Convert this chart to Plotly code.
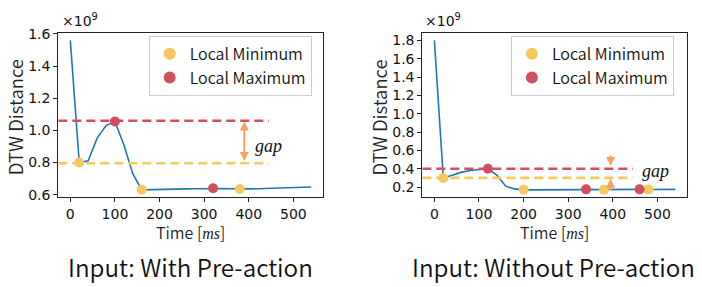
import plotly.graph_objects as go

# ---------------- data ----------------
time_ms = [0, 20, 40, 60, 80, 100, 120, 140, 160, 180, 200, 220, 240, 260, 280,
           300, 320, 340, 360, 380, 400, 420, 440, 460, 480, 500, 520, 540]

dtw_with = [1.56, 0.80, 0.81, 0.95, 1.03, 1.055, 0.91, 0.73, 0.63, 0.632, 0.633,
            0.634, 0.635, 0.636, 0.637, 0.638, 0.640, 0.638, 0.637, 0.635, 0.636,
            0.637, 0.639, 0.642, 0.645, 0.647, 0.648, 0.648]

dtw_without = [1.80, 0.30, 0.33, 0.36, 0.38, 0.39, 0.40, 0.33, 0.21, 0.18, 0.17,
               0.170, 0.171, 0.171, 0.172, 0.173, 0.174, 0.175, 0.173, 0.171, 0.172,
               0.173, 0.174, 0.175, 0.173, 0.173, 0.174, 0.175]

with_min_t = [20, 160, 380]
with_min_v = [0.80, 0.63, 0.635]
with_max_t = [100, 320]
with_max_v = [1.055, 0.640]

without_min_t = [20, 200, 380, 480]
without_min_v = [0.30, 0.17, 0.171, 0.173]
without_max_t = [120, 340, 460]
without_max_v = [0.40, 0.175, 0.175]

with_levels = {"max": 1.06, "min": 0.795}
without_levels = {"max": 0.40, "min": 0.30}
level_x = [-27, 445]

x_ticks = [0, 100, 200, 300, 400, 500]
with_yticks = [0.6, 0.8, 1.0, 1.2, 1.4, 1.6]
without_yticks = [0.2, 0.4, 0.6, 0.8, 1.0, 1.2, 1.4, 1.6, 1.8]

captions = ["Input: With Pre-action", "Input: Without Pre-action"]

# ---------------- styles ----------------
BLUE = "#1f77b4"
YEL = "#f6c85f"
RED = "#d0505f"
ORANGE = "#f5a262"
JP = "Noto Sans CJK JP"
W = 350
TICKF = dict(family="DejaVu Sans", size=14, color="#111")

fig = go.Figure()

def add_panel(xa, ya, y, mint, minv, maxt, maxv, levels, legend):
    fig.add_trace(go.Scatter(x=time_ms, y=y, mode="lines", xaxis=xa, yaxis=ya,
                             line=dict(color=BLUE, width=1.6), showlegend=False))
    fig.add_trace(go.Scatter(x=level_x, y=[levels["max"]] * 2, mode="lines", xaxis=xa, yaxis=ya,
                             line=dict(color=RED, width=2.6, dash="9px,5px"), showlegend=False))
    fig.add_trace(go.Scatter(x=level_x, y=[levels["min"]] * 2, mode="lines", xaxis=xa, yaxis=ya,
                             line=dict(color=YEL, width=2.6, dash="9px,5px"), showlegend=False))
    fig.add_trace(go.Scatter(x=mint, y=minv, mode="markers", xaxis=xa, yaxis=ya,
                             marker=dict(color=YEL, size=10), name="Local Minimum", legend=legend))
    fig.add_trace(go.Scatter(x=maxt, y=maxv, mode="markers", xaxis=xa, yaxis=ya,
                             marker=dict(color=RED, size=10), name="Local Maximum", legend=legend))

add_panel("x", "y", dtw_with, with_min_t, with_min_v, with_max_t, with_max_v, with_levels, "legend")
add_panel("x2", "y2", dtw_without, without_min_t, without_min_v, without_max_t, without_max_v,
          without_levels, "legend2")

axis_common = dict(showline=True, mirror=True, linecolor="#222", linewidth=1,
                   ticks="outside", ticklen=4, tickcolor="#222", showgrid=False,
                   zeroline=False, tickfont=TICKF)

ydom = [0.308, 0.906]
legend_common = dict(xanchor="right", yanchor="top", bgcolor="white",
                     bordercolor="#cccccc", borderwidth=1, itemsizing="constant",
                     font=dict(family=JP, size=16, color="#111", weight=W),
                     tracegroupgap=0)
fig.update_layout(
    width=702, height=287,
    margin=dict(l=0, r=0, t=0, b=0),
    paper_bgcolor="white", plot_bgcolor="white",
    xaxis=dict(domain=[0.0830, 0.4605], range=[-27, 567], tickvals=x_ticks, anchor="y", **axis_common),
    yaxis=dict(domain=ydom, range=[0.5835, 1.6065], tickvals=with_yticks, tickformat=".1f",
               anchor="x", **axis_common),
    xaxis2=dict(domain=[0.6016, 0.9791], range=[-27, 567], tickvals=x_ticks, anchor="y2", **axis_common),
    yaxis2=dict(domain=ydom, range=[0.0885, 1.8815], tickvals=without_yticks, tickformat=".1f",
                anchor="x2", **axis_common),
    legend=dict(x=0.444, y=0.895, **legend_common),
    legend2=dict(x=0.960, y=0.895, **legend_common),
)

ms = "<span style='font-family:Liberation Serif'><i>ms</i></span>"
ann = []
for xc, x0 in [(190.8, 60), (554.8, 423)]:
    ann.append(dict(text="Time [" + ms + "]", x=xc / 702, y=1 - 235 / 287, xref="paper", yref="paper",
                    showarrow=False, font=dict(family=JP, size=16, color="#222", weight=W),
                    xanchor="center", yanchor="middle"))
    ann.append(dict(text="×10<sup>9</sup>", x=x0 / 702, y=1 - 14 / 287, xref="paper", yref="paper",
                    showarrow=False, font=dict(family="DejaVu Sans", size=14, color="#111"),
                    xanchor="left", yanchor="middle"))
for xc in [15, 379.3]:
    ann.append(dict(text="DTW Distance", x=xc / 702, y=1 - 115 / 287, xref="paper", yref="paper",
                    showarrow=False, textangle=-90,
                    font=dict(family=JP, size=18.5, color="#222", weight=W),
                    xanchor="center", yanchor="middle"))
for cap, xc in zip(captions, [190, 553]):
    ann.append(dict(text=cap, x=xc / 702, y=1 - 271 / 287, xref="paper", yref="paper",
                    showarrow=False, font=dict(family=JP, size=24.2, color="#111", weight=W),
                    xanchor="center", yanchor="middle"))

# gap arrows
arrow = dict(showarrow=True, arrowcolor=ORANGE, arrowwidth=2, arrowhead=2, arrowsize=0.9,
             standoff=0, startstandoff=0, text="")
ann.append(dict(x=390, y=with_levels["max"] - 0.005, ax=390, ay=with_levels["min"] + 0.005,
                xref="x", yref="y", axref="x", ayref="y", arrowside="end+start",
                startarrowhead=2, startarrowsize=0.9, **arrow))
ann.append(dict(x=395, y=0.43, ax=395, ay=0.56, xref="x2", yref="y2", axref="x2", ayref="y2", **arrow))
ann.append(dict(x=395, y=0.29, ax=395, ay=0.15, xref="x2", yref="y2", axref="x2", ayref="y2", **arrow))

gapfont = dict(family="Liberation Serif", size=18, color="#111")
ann.append(dict(text="<i>gap</i>", x=409, y=0.905, xref="x", yref="y", showarrow=False,
                xanchor="left", yanchor="middle", font=gapfont))
ann.append(dict(text="<i>gap</i>", x=461, y=0.37, xref="x2", yref="y2", showarrow=False,
                xanchor="left", yanchor="middle", font=gapfont))

fig.update_layout(annotations=ann)
fig.write_html("out.html")
